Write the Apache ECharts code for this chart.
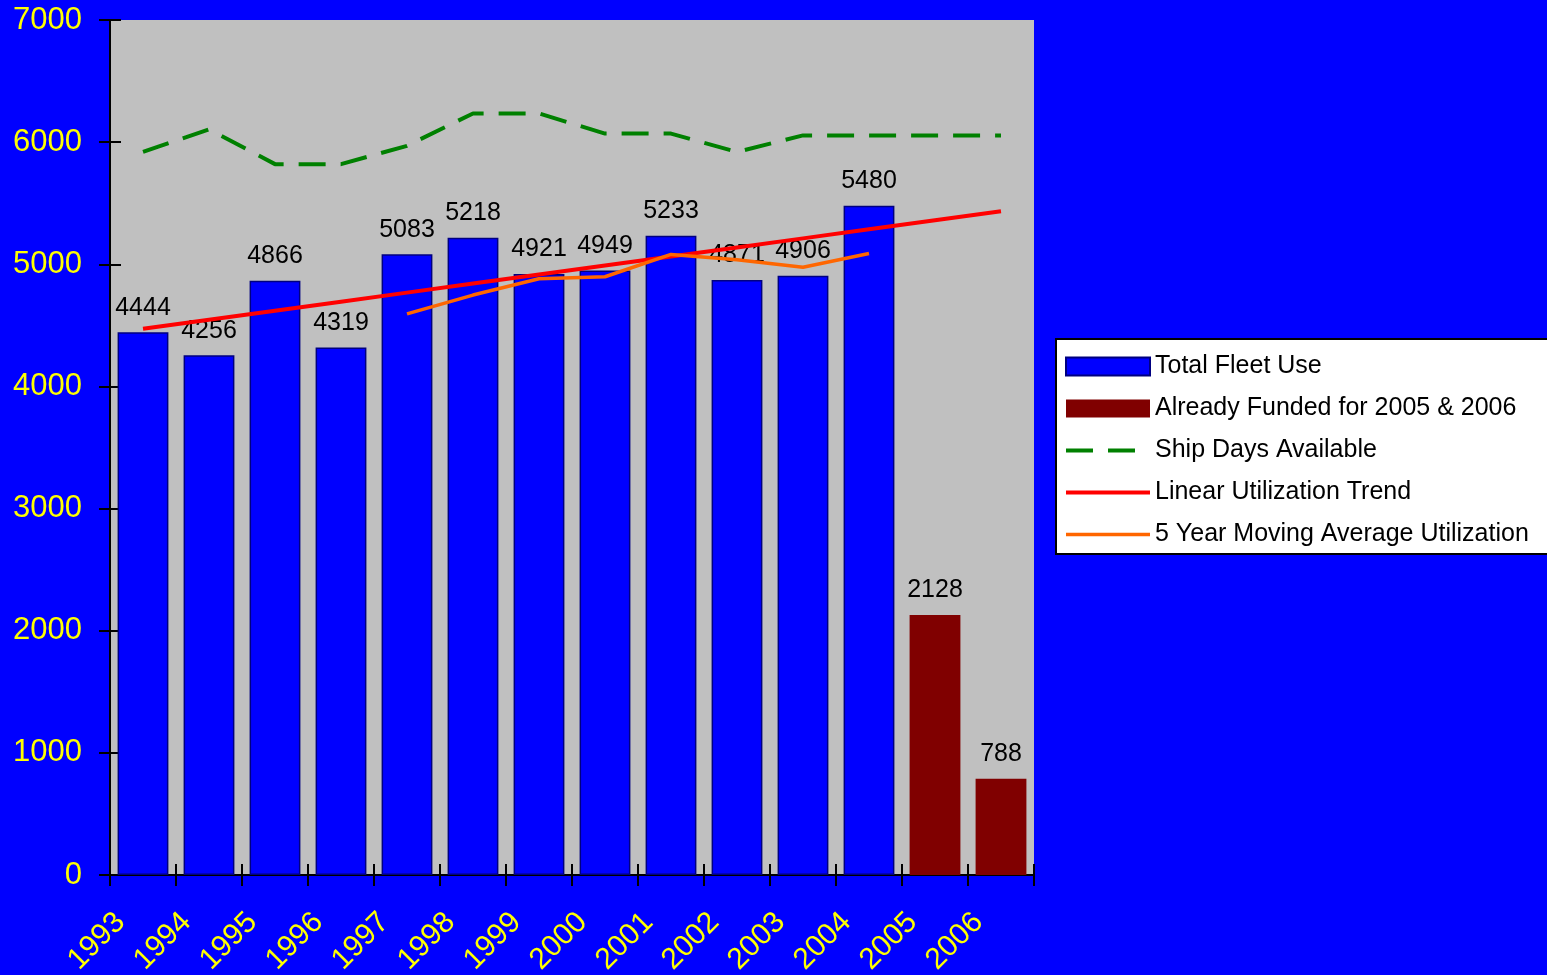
<!DOCTYPE html>
<html>
<head>
<meta charset="utf-8">
<script src="https://cdn.jsdelivr.net/npm/echarts@6/dist/echarts.min.js"></script>
<style>
html,body{margin:0;padding:0;background:#0000FF;}
#chart{width:1547px;height:975px;}
</style>
</head>
<body>
<div id="chart"></div>
<script>
const years = ['1993','1994','1995','1996','1997','1998','1999','2000','2001','2002','2003','2004','2005','2006'];
const fleetUse = [4444,4256,4866,4319,5083,5218,4921,4949,5233,4871,4906,5480,null,null];
const funded = [null,null,null,null,null,null,null,null,null,null,null,null,2128,788];
const shipDays = [5920,6105,5820,5820,5970,6235,6235,6070,6070,5920,6055,6055,6055,6055];
const trend = [4472,4546,4620,4694,4768,4842,4916,4990,5064,5138,5212,5286,5360,5434];
const movingAvg = [null,null,null,null,4594,4748,4881,4898,5081,5038,4976,5088,null,null];
const yMin = 0, yMax = 7000, yStep = 1000;

const FONT = 'Liberation Sans, Arial, sans-serif';
const chart = echarts.init(document.getElementById('chart'));
const barLabel = {show:true, position:'top', distance:12, color:'#000', fontSize:25, fontFamily:FONT};
const hideSym = {opacity:0};
chart.setOption({
  backgroundColor:'#0000FF',
  animation:false,
  grid:{left:110, top:20, width:924, height:855, show:true, backgroundColor:'#C0C0C0', borderWidth:0,
        containLabel:false, outerBoundsMode:'none'},
  legend:{
    orient:'vertical', left:1056, top:339,
    backgroundColor:'#FFFFFF', borderColor:'#000', borderWidth:2,
    padding:[15,20,7,8], itemGap:17, itemWidth:84, itemHeight:18,
    lineStyle:{width:'inherit'},
    textStyle:{color:'#000', fontSize:25, fontFamily:FONT},
    data:[
      {name:'Total Fleet Use', icon:'rect'},
      {name:'Already Funded for 2005 & 2006', icon:'rect'},
      {name:'Ship Days Available', itemStyle:hideSym},
      {name:'Linear Utilization Trend', itemStyle:hideSym},
      {name:'5 Year Moving Average Utilization', itemStyle:hideSym}
    ]
  },
  xAxis:[{
    type:'category', data:years, boundaryGap:true,
    axisLine:{show:true, lineStyle:{color:'#000', width:2}},
    axisTick:{show:true, inside:false, length:11, lineStyle:{color:'#000', width:2}},
    axisLabel:{rotate:45, margin:20, padding:[0,32,0,0], color:'#FFFF00', fontSize:30, fontFamily:FONT, interval:0},
    splitLine:{show:false}
  },{
    type:'category', data:years, boundaryGap:true, position:'bottom',
    axisLine:{show:false},
    axisTick:{show:true, inside:true, length:11, lineStyle:{color:'#000', width:2}},
    axisLabel:{show:false}, splitLine:{show:false}
  }],
  yAxis:[{
    type:'value', min:yMin, max:yMax, interval:yStep,
    axisLine:{show:true, lineStyle:{color:'#000', width:2}},
    axisTick:{show:true, inside:false, length:11, lineStyle:{color:'#000', width:2}},
    axisLabel:{margin:28, color:'#FFFF00', fontSize:31, fontFamily:FONT, formatter:function(v){return String(v);}},
    splitLine:{show:false}
  },{
    type:'value', min:yMin, max:yMax, interval:yStep, position:'left',
    axisLine:{show:false},
    axisTick:{show:true, inside:true, length:11, lineStyle:{color:'#000', width:2}},
    axisLabel:{show:false}, splitLine:{show:false}
  }],
  series:[
    {name:'Total Fleet Use', type:'bar', stack:'s', data:fleetUse, barWidth:'77%',
     itemStyle:{color:'#0000FF', borderColor:'#000080', borderWidth:1.5}, label:barLabel},
    {name:'Already Funded for 2005 & 2006', type:'bar', stack:'s', data:funded, barWidth:'77%',
     itemStyle:{color:'#800000'}, label:barLabel},
    {name:'Ship Days Available', type:'line', data:shipDays, symbol:'none', z:5,
     lineStyle:{color:'#008000', width:4, type:[27,15]}, itemStyle:{color:'#008000'}},
    {name:'Linear Utilization Trend', type:'line', data:trend, symbol:'none', z:5,
     lineStyle:{color:'#FF0000', width:4}, itemStyle:{color:'#FF0000'}},
    {name:'5 Year Moving Average Utilization', type:'line', data:movingAvg, symbol:'none', z:5,
     lineStyle:{color:'#FF6600', width:3.5}, itemStyle:{color:'#FF6600'}}
  ]
});
</script>
</body>
</html>
